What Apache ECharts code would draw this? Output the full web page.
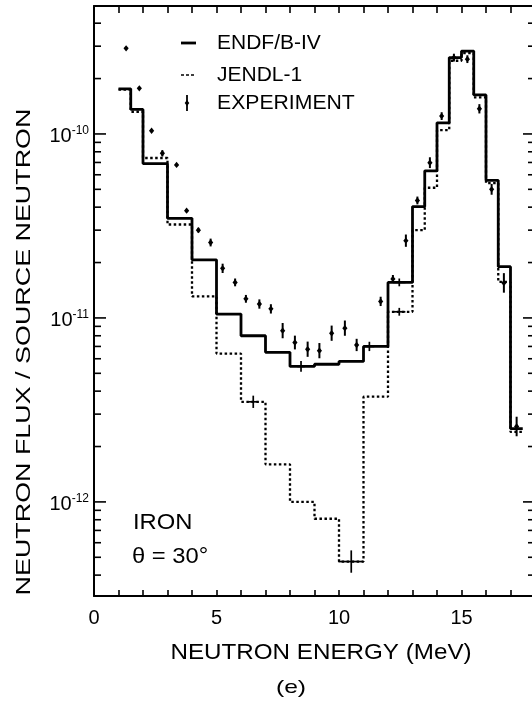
<!DOCTYPE html>
<html>
<head>
<meta charset="utf-8">
<script src="https://cdn.jsdelivr.net/npm/echarts@6/dist/echarts.min.js"></script>
<style>
  html, body { margin: 0; padding: 0; background: #fff; }
  #chart { width: 532px; height: 705px; }
</style>
</head>
<body>
<div id="chart"></div>
<script>
// Bin edges (MeV) shared by both calculated spectra
const binEdges = [1, 1.5, 2, 3, 4, 5, 6, 7, 8, 9, 10, 11, 12, 13, 13.5, 14, 14.5, 15, 15.5, 16, 16.5, 17, 17.5];

// Neutron flux per source neutron in each bin
const endfFlux = [1.76e-10, 1.36e-10, 6.9e-11, 3.48e-11, 2.07e-11, 1.05e-11, 8.0e-12, 6.5e-12,
  5.45e-12, 5.6e-12, 5.8e-12, 7.0e-12, 1.56e-11, 4.03e-11, 6.3e-11, 1.15e-10,
  2.6e-10, 2.82e-10, 1.63e-10, 5.6e-11, 1.9e-11, 2.5e-12];
const jendlFlux = [1.74e-10, 1.32e-10, 7.4e-11, 3.22e-11, 1.31e-11, 6.4e-12, 3.5e-12, 1.6e-12,
  1.0e-12, 8.1e-13, 4.74e-13, 3.73e-12, 1.08e-11, 3.0e-11, 5.1e-11, 1.05e-10,
  2.5e-10, 2.75e-10, 1.58e-10, 5.4e-11, 1.57e-11, 2.4e-12];

// Measured spectrum: energy, flux, error factor (x/÷)
const expEnergy = [1.31, 1.85, 2.35, 2.79, 3.37, 3.78, 4.26, 4.76, 5.25, 5.76, 6.2, 6.75, 7.22,
  7.7, 8.2, 8.72, 9.2, 9.7, 10.24, 10.72, 11.7, 12.2, 12.73, 13.2, 13.71, 14.19, 14.69,
  15.24, 15.73, 16.23, 16.73, 17.25];
const expFlux = [2.92e-10, 1.77e-10, 1.04e-10, 7.85e-11, 6.79e-11, 3.83e-11, 3.0e-11, 2.57e-11,
  1.86e-11, 1.56e-11, 1.27e-11, 1.19e-11, 1.12e-11, 8.53e-12, 7.35e-12, 6.76e-12, 6.64e-12,
  8.26e-12, 8.8e-12, 7.13e-12, 1.23e-11, 1.63e-11, 2.63e-11, 4.35e-11, 6.98e-11, 1.25e-10,
  2.6e-10, 2.55e-10, 1.37e-10, 5.0e-11, 1.55e-11, 2.57e-12];
const expErr = [1.0, 1.0, 1.0, 1.04, 1.0, 1.0, 1.03, 1.05, 1.06, 1.05, 1.05, 1.06, 1.06,
  1.1, 1.09, 1.1, 1.1, 1.1, 1.1, 1.08, 1.06, 1.05, 1.08, 1.05, 1.07, 1.05, 1.05,
  1.05, 1.06, 1.07, 1.13, 1.13];

// Cross marks lying on the calculated histograms: energy, flux, half width (MeV), error factor
const crossEnergy = [6.5, 8.45, 10.5, 11.24, 12.46, 12.46];
const crossFlux = [3.5e-12, 5.45e-12, 4.74e-13, 7.0e-12, 1.56e-11, 1.08e-11];
const crossHalfWidth = [0.2, 0.15, 0.5, 0.2, 0.25, 0.25];
const crossErr = [1.08, 1.07, 1.15, 1.06, 1.05, 1.05];

// Axis ranges
const xMin = 0, xMax = 18;
const yMin = 3.08e-13, yMax = 4.96e-10;
const xLabelStep = 5;

// Decade tick marks on the log axis (1..9 x 10^n)
const tickMantissas = [1, 2, 3, 4, 5, 6, 7, 8, 9];
const tickDecades = [-13, -12, -11, -10];

const FONT = 'Liberation Sans';

function stepPoints(values) {
  const pts = values.map((v, i) => [binEdges[i], v]);
  pts.push([binEdges[binEdges.length - 1], values[values.length - 1]]);
  return pts;
}

const yTicks = [];
tickDecades.forEach(d => tickMantissas.forEach(m => {
  const v = m * Math.pow(10, d);
  if (v >= yMin && v <= yMax) yTicks.push([xMin, v, m === 1 ? 1 : 0]);
}));

function label(x, y, text, size, opts) {
  return Object.assign({
    type: 'text', x, y,
    style: { text, fontFamily: FONT, fontSize: size, fill: '#000', align: 'left', verticalAlign: 'middle' }
  }, opts || {});
}

const chart = echarts.init(document.getElementById('chart'), null, { renderer: 'canvas' });

const option = {
  animation: false,
  backgroundColor: '#fff',
  grid: { left: 94, right: -3, top: 6, bottom: 109, containLabel: false, outerBoundsMode: 'none' },
  xAxis: [{
    type: 'value', min: xMin, max: xMax, interval: 1, position: 'bottom',
    axisLine: { show: true, onZero: false, lineStyle: { color: '#000', width: 2 } },
    axisTick: { show: true, inside: true, length: 6, lineStyle: { color: '#000', width: 1.6 } },
    axisLabel: {
      margin: 12, color: '#000', fontFamily: FONT, fontSize: 20,
      formatter: v => (v % xLabelStep === 0 ? String(v) : '')
    },
    splitLine: { show: false }
  }, {
    type: 'value', min: xMin, max: xMax, interval: 1, position: 'top',
    axisLine: { show: true, onZero: false, lineStyle: { color: '#000', width: 2 } },
    axisTick: { show: true, inside: true, length: 7, lineStyle: { color: '#000', width: 1.6 } },
    axisLabel: { show: false },
    splitLine: { show: false }
  }],
  yAxis: [{
    type: 'log', logBase: 10, min: yMin, max: yMax, position: 'left',
    axisLine: { show: true, onZero: false, lineStyle: { color: '#000', width: 2 } },
    axisTick: { show: false },
    splitLine: { show: false },
    axisLabel: {
      margin: 5, color: '#000', fontFamily: FONT,
      formatter: v => {
        const l = Math.log10(v), e = Math.round(l);
        if (Math.abs(l - e) > 1e-6) return '';
        return '{b|10}{s|-' + (-e) + '}';
      },
      rich: {
        b: { fontSize: 20, fontFamily: FONT, color: '#000', padding: [6, 0, 0, 0] },
        s: { fontSize: 12, fontFamily: FONT, color: '#000', padding: [0, 0, 6, 0] }
      }
    }
  }],
  series: [{
    name: 'JENDL-1', type: 'line', step: 'end', data: stepPoints(jendlFlux),
    symbol: 'none', z: 2,
    lineStyle: { color: '#000', width: 2.3, type: [2.5, 2.5] }
  }, {
    name: 'ENDF/B-IV', type: 'line', step: 'end', data: stepPoints(endfFlux),
    symbol: 'none', z: 3,
    lineStyle: { color: '#000', width: 2.8 }
  }, {
    name: 'EXPERIMENT', type: 'custom', z: 4,
    data: expEnergy.map((e, i) => [e, expFlux[i], expErr[i]]),
    encode: { x: 0, y: 1 },
    renderItem: (params, api) => {
      const e = api.value(0), f = api.value(1), k = api.value(2);
      const c = api.coord([e, f]);
      const children = [];
      if (k > 1) {
        const hi = api.coord([e, f * k]), lo = api.coord([e, f / k]);
        children.push({ type: 'line', shape: { x1: c[0], y1: hi[1], x2: c[0], y2: lo[1] },
          style: { stroke: '#000', lineWidth: 2 } });
      }
      children.push({ type: 'polygon',
        shape: { points: [[c[0], c[1] - 3.2], [c[0] + 2.6, c[1]], [c[0], c[1] + 3.2], [c[0] - 2.6, c[1]]] },
        style: { fill: '#000' } });
      return { type: 'group', children };
    }
  }, {
    name: 'marks', type: 'custom', z: 4,
    data: crossEnergy.map((e, i) => [e, crossFlux[i], crossHalfWidth[i], crossErr[i]]),
    encode: { x: 0, y: 1 },
    renderItem: (params, api) => {
      const e = api.value(0), f = api.value(1), hw = api.value(2), k = api.value(3);
      const l = api.coord([e - hw, f]), r = api.coord([e + hw, f]);
      const hi = api.coord([e, f * k]), lo = api.coord([e, f / k]);
      return { type: 'group', children: [
        { type: 'line', shape: { x1: l[0], y1: l[1], x2: r[0], y2: r[1] }, style: { stroke: '#000', lineWidth: 1.7 } },
        { type: 'line', shape: { x1: hi[0], y1: hi[1], x2: lo[0], y2: lo[1] }, style: { stroke: '#000', lineWidth: 1.7 } }
      ] };
    }
  }, {
    name: 'yTicks', type: 'custom', z: 5, silent: true,
    data: yTicks,
    encode: { x: 0, y: 1 },
    renderItem: (params, api) => {
      const v = api.value(1), major = api.value(2);
      const len = major ? 12 : 7;
      const l = api.coord([xMin, v]), r = api.coord([xMax, v]);
      return { type: 'group', children: [
        { type: 'line', shape: { x1: l[0], y1: l[1], x2: l[0] + len, y2: l[1] }, style: { stroke: '#000', lineWidth: 1.6 } },
        { type: 'line', shape: { x1: r[0], y1: r[1], x2: r[0] - len, y2: r[1] }, style: { stroke: '#000', lineWidth: 1.6 } }
      ] };
    }
  }],
  graphic: [
    // legend
    { type: 'line', shape: { x1: 181, y1: 43, x2: 196, y2: 43 }, style: { stroke: '#000', lineWidth: 2.8 } },
    label(217, 43, 'ENDF/B-IV', 20, { scaleX: 1.05 }),
    { type: 'line', shape: { x1: 181, y1: 75, x2: 196, y2: 75 }, style: { stroke: '#000', lineWidth: 1.5, lineDash: [3, 2] } },
    label(217, 75, 'JENDL-1', 20, { scaleX: 1.05 }),
    { type: 'line', shape: { x1: 187, y1: 95, x2: 187, y2: 111 }, style: { stroke: '#000', lineWidth: 1.8 } },
    { type: 'polygon', shape: { points: [[187, 100], [189.3, 103], [187, 106], [184.7, 103]] }, style: { fill: '#000' } },
    label(217, 103, 'EXPERIMENT', 20, { scaleX: 1.06 }),
    // sample annotation
    label(133, 523, 'IRON', 22, { scaleX: 1.08 }),
    label(132, 557, 'θ = 30°', 22, { scaleX: 1.08 }),
    // axis titles and panel tag
    { type: 'text', x: 321, y: 653, scaleX: 1.1,
      style: { text: 'NEUTRON ENERGY (MeV)', fontFamily: FONT, fontSize: 22, fill: '#000', align: 'center', verticalAlign: 'middle' } },
    { type: 'text', x: 24, y: 352, rotation: Math.PI / 2, scaleX: 1.28,
      style: { text: 'NEUTRON FLUX / SOURCE NEUTRON', fontFamily: FONT, fontSize: 21, fill: '#000', align: 'center', verticalAlign: 'middle' } },
    { type: 'text', x: 291, y: 688, scaleX: 1.3,
      style: { text: '(e)', fontFamily: FONT, fontSize: 19, fill: '#000', align: 'center', verticalAlign: 'middle' } }
  ]
};

chart.setOption(option);
</script>
</body>
</html>
